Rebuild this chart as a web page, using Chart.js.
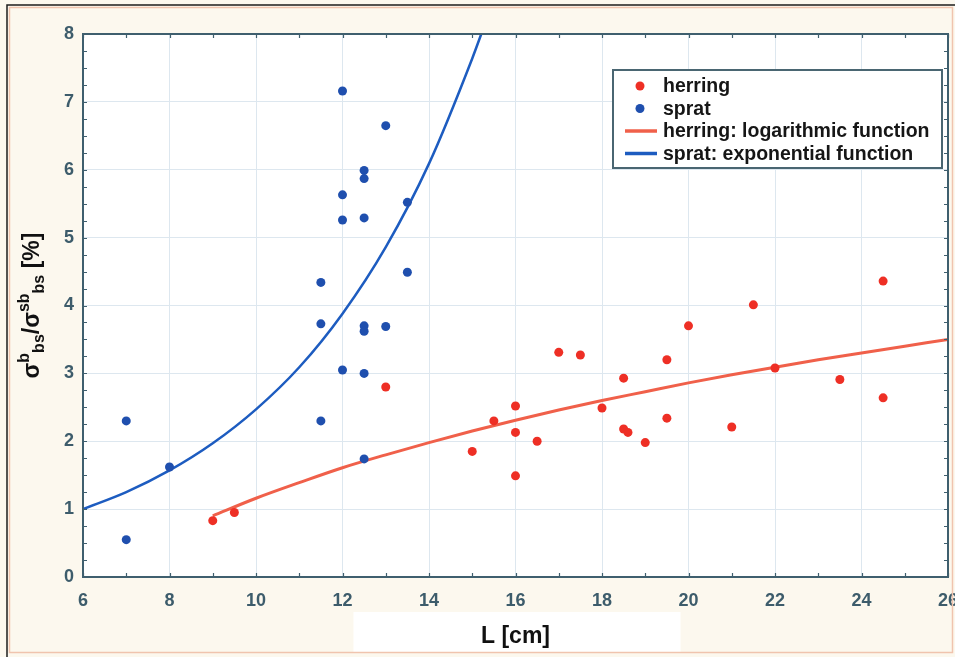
<!DOCTYPE html>
<html>
<head>
<meta charset="utf-8">
<script src="https://cdn.jsdelivr.net/npm/chart.js@4.4.1/dist/chart.umd.min.js"></script>
<style>
  html, body { margin: 0; padding: 0; background: #fcf8ee; }
  canvas { display: block; }
</style>
</head>
<body>
<canvas id="chart" width="955" height="657"></canvas>
<script>
// Measured fish length L [cm] and backscatter ratio [%]
const herringLength = [9, 9.5, 13, 15, 15.5, 16, 16, 16, 16.5, 17, 17.5, 18, 18.5, 18.5, 18.6, 19, 19.5, 19.5, 20, 21, 21.5, 22, 23.5, 24.5, 24.5];
const herringRatio  = [0.83, 0.95, 2.80, 1.85, 2.30, 2.52, 2.13, 1.49, 2.00, 3.31, 3.27, 2.49, 2.93, 2.18, 2.13, 1.98, 3.20, 2.34, 3.70, 2.21, 4.01, 3.08, 2.91, 4.36, 2.64];

const spratLength = [7, 7, 8, 11.5, 11.5, 11.5, 12, 12, 12, 12, 12.5, 12.5, 12.5, 12.5, 12.5, 12.5, 12.5, 13, 13, 13.5, 13.5];
const spratRatio  = [2.30, 0.55, 1.62, 2.30, 3.73, 4.34, 7.16, 5.63, 5.26, 3.05, 5.99, 5.87, 5.29, 3.70, 3.62, 3.00, 1.74, 6.65, 3.69, 5.52, 4.49];

// Fitted curves
const herringFitLength = [9, 10, 11, 12, 13, 14, 15, 16, 17, 18, 19, 20, 21, 22, 23, 24, 25, 26];
const herringFitRatio  = [0.90, 1.16, 1.39, 1.61, 1.80, 1.98, 2.15, 2.31, 2.46, 2.60, 2.73, 2.86, 2.98, 3.09, 3.20, 3.30, 3.40, 3.50];

const spratFitLength = [6, 7, 8, 9, 10, 11, 12, 13, 14, 15, 15.3];
const spratFitRatio  = [1.00, 1.25, 1.57, 1.97, 2.47, 3.09, 3.88, 4.86, 6.09, 7.64, 8.16];

// Axis tick labels
const xTickLabels = ['6', '8', '10', '12', '14', '16', '18', '20', '22', '24', '26'];
const yTickLabels = ['0', '1', '2', '3', '4', '5', '6', '7', '8'];

const seriesNames = ['herring', 'sprat', 'herring: logarithmic function', 'sprat: exponential function'];

const RED_PT = '#ee2f25';
const BLUE_PT = '#1f4fae';
const RED_LINE = '#f0604a';
const BLUE_LINE = '#1d5cc0';
const FRAME = '#3f5f6e';
const TICK_TEXT = '#3d5c6b';
const FONT = '"Liberation Sans", Arial, sans-serif';

const toPoints = (xs, ys) => xs.map((x, i) => ({ x: x, y: ys[i] }));

// Background, plot frame, minor ticks, legend and rotated y title
const decorations = {
  id: 'decorations',
  beforeDraw(chart) {
    const { ctx, chartArea: a, width, height } = chart;
    ctx.save();
    ctx.fillStyle = '#fcf8ee';
    ctx.fillRect(0, 0, width, height);
    const cx = (a.left + a.right) / 2;
    ctx.fillStyle = '#ffffff';
    ctx.fillRect(cx - 162, a.bottom + 35, 327, height - a.bottom - 40);
    ctx.fillRect(a.left, a.top, a.right - a.left, a.bottom - a.top);
    ctx.restore();
  },
  afterDraw(chart) {
    const { ctx, chartArea: a, width, height } = chart;
    const xs = chart.scales.x, ys = chart.scales.y;
    ctx.save();

    // minor ticks on all four sides, pointing inward
    ctx.strokeStyle = FRAME;
    ctx.lineWidth = 1.2;
    ctx.beginPath();
    for (let v = xs.min; v <= xs.max + 1e-9; v += 1) {
      const px = Math.round(xs.getPixelForValue(v)) + 0.5;
      ctx.moveTo(px, a.bottom); ctx.lineTo(px, a.bottom - 4);
      ctx.moveTo(px, a.top); ctx.lineTo(px, a.top + 4);
    }
    for (let v = ys.min; v <= ys.max + 1e-9; v += 0.25) {
      const py = Math.round(ys.getPixelForValue(v)) + 0.5;
      ctx.moveTo(a.left, py); ctx.lineTo(a.left + 4, py);
      ctx.moveTo(a.right, py); ctx.lineTo(a.right - 4, py);
    }
    ctx.stroke();

    // plot frame
    ctx.lineWidth = 2;
    ctx.strokeStyle = FRAME;
    ctx.strokeRect(a.left, a.top, a.right - a.left, a.bottom - a.top);

    // legend
    const lx = a.right - 335, ly = a.top + 36, lw = 329, lh = 98;
    ctx.fillStyle = '#ffffff';
    ctx.fillRect(lx, ly, lw, lh);
    ctx.lineWidth = 2;
    ctx.strokeStyle = '#4a6672';
    ctx.strokeRect(lx, ly, lw, lh);
    ctx.font = 'bold 19.5px ' + FONT;
    ctx.textBaseline = 'middle';
    ctx.textAlign = 'left';
    chart.data.datasets.forEach((ds, i) => {
      const ry = ly + 16 + i * 22.5;
      if (ds.showLine) {
        ctx.strokeStyle = ds.borderColor;
        ctx.lineWidth = 3.5;
        ctx.beginPath();
        ctx.moveTo(lx + 12, ry); ctx.lineTo(lx + 44, ry);
        ctx.stroke();
      } else {
        ctx.fillStyle = ds.backgroundColor;
        ctx.beginPath();
        ctx.arc(lx + 27, ry, 4.5, 0, Math.PI * 2);
        ctx.fill();
      }
      ctx.fillStyle = '#161616';
      ctx.fillText(ds.label, lx + 50, ry + 1);
    });

    // y axis title: sigma^b_bs / sigma^sb_bs [%]
    const parts = [
      ['σ', 'm'], ['b', 'sup'], ['bs', 'sub'], ['/σ', 'm'], ['sb', 'sup'], ['bs', 'sub'], [' [%]', 'm']
    ];
    const mainFont = 'bold 23px ' + FONT, smallFont = 'bold 16px ' + FONT;
    let total = 0;
    parts.forEach(p => { ctx.font = p[1] === 'm' ? mainFont : smallFont; total += ctx.measureText(p[0]).width; });
    ctx.translate(32, (a.top + a.bottom) / 2);
    ctx.rotate(-Math.PI / 2);
    ctx.textBaseline = 'alphabetic';
    ctx.fillStyle = '#111111';
    let cx = -total / 2;
    parts.forEach(p => {
      ctx.font = p[1] === 'm' ? mainFont : smallFont;
      const dy = p[1] === 'sup' ? -3 : (p[1] === 'sub' ? 12 : 7);
      ctx.fillText(p[0], cx, dy);
      cx += ctx.measureText(p[0]).width;
    });
    ctx.setTransform(1, 0, 0, 1, 0, 0);

    // outer picture border
    ctx.lineWidth = 1.5;
    ctx.strokeStyle = '#f0c4ae';
    ctx.strokeRect(9.5, 7.5, width - 12, height - 12);
    ctx.strokeStyle = '#1c1c1c';
    ctx.beginPath();
    ctx.moveTo(7, height); ctx.lineTo(7, 5); ctx.lineTo(width, 5);
    ctx.stroke();
    ctx.restore();
  }
};

new Chart(document.getElementById('chart'), {
  type: 'scatter',
  data: {
    datasets: [
      {
        label: seriesNames[0],
        data: toPoints(herringLength, herringRatio),
        backgroundColor: RED_PT, borderColor: RED_PT,
        pointRadius: 4.5, pointBorderWidth: 0, showLine: false
      },
      {
        label: seriesNames[1],
        data: toPoints(spratLength, spratRatio),
        backgroundColor: BLUE_PT, borderColor: BLUE_PT,
        pointRadius: 4.5, pointBorderWidth: 0, showLine: false
      },
      {
        label: seriesNames[2],
        data: toPoints(herringFitLength, herringFitRatio),
        borderColor: RED_LINE, backgroundColor: RED_LINE,
        showLine: true, pointRadius: 0, borderWidth: 3,
        cubicInterpolationMode: 'monotone', fill: false
      },
      {
        label: seriesNames[3],
        data: toPoints(spratFitLength, spratFitRatio),
        borderColor: BLUE_LINE, backgroundColor: BLUE_LINE,
        showLine: true, pointRadius: 0, borderWidth: 2.5,
        cubicInterpolationMode: 'monotone', fill: false
      }
    ]
  },
  options: {
    responsive: false,
    animation: false,
    devicePixelRatio: 1,
    layout: { padding: { left: 0, top: 34, right: 7, bottom: 0 } },
    plugins: {
      legend: { display: false },
      tooltip: { enabled: false }
    },
    scales: {
      x: {
        type: 'linear', min: 6, max: 26,
        afterFit(scale) {
          scale.height = 80;
          scale.paddingLeft = 0;
          scale.paddingRight = 0;
        },
        afterBuildTicks(scale) { scale.ticks = xTickLabels.map(t => ({ value: Number(t) })); },
        ticks: {
          padding: 13, color: TICK_TEXT,
          font: { family: FONT, size: 18, weight: 'bold' },
          maxRotation: 0, autoSkip: false
        },
        grid: { color: '#dde7ef', lineWidth: 1, drawTicks: false },
        border: { display: false },
        title: {
          display: true, text: 'L [cm]', color: '#111111',
          font: { family: FONT, size: 23, weight: 'bold' },
          padding: { top: 0, bottom: 7 }
        }
      },
      y: {
        type: 'linear', min: 0, max: 8,
        afterFit(scale) {
          scale.width = 83;
          scale.paddingTop = 0;
          scale.paddingBottom = 0;
        },
        afterBuildTicks(scale) { scale.ticks = yTickLabels.map(t => ({ value: Number(t) })); },
        ticks: {
          padding: 9, color: TICK_TEXT,
          font: { family: FONT, size: 18, weight: 'bold' }
        },
        grid: { color: '#dde7ef', lineWidth: 1, drawTicks: false },
        border: { display: false }
      }
    }
  },
  plugins: [decorations]
});
</script>
</body>
</html>
